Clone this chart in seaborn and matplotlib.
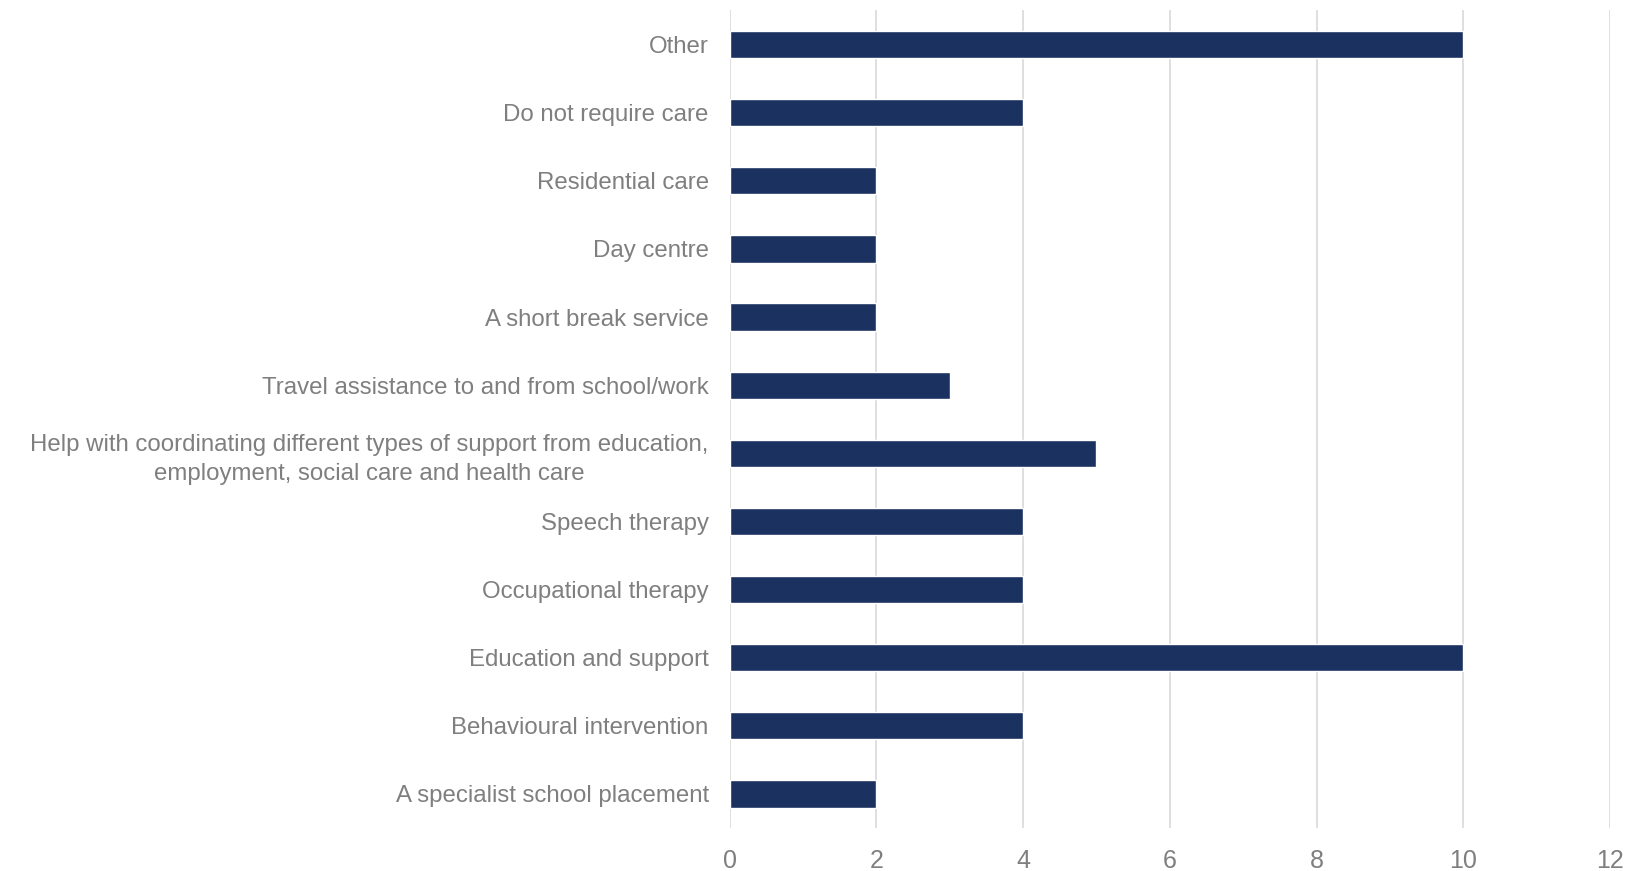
import matplotlib
matplotlib.use("Agg")
import matplotlib.pyplot as plt
import seaborn as sns
import pandas as pd

categories = [
    "Other",
    "Do not require care",
    "Residential care",
    "Day centre",
    "A short break service",
    "Travel assistance to and from school/work",
    "Help with coordinating different types of support from education,\nemployment, social care and health care",
    "Speech therapy",
    "Occupational therapy",
    "Education and support",
    "Behavioural intervention",
    "A specialist school placement",
]
values = [10, 4, 2, 2, 2, 3, 5, 4, 4, 10, 4, 2]
x_ticks = [0, 2, 4, 6, 8, 10, 12]

df = pd.DataFrame({"category": categories, "value": values})

sns.set_theme(style="white")
plt.rcParams["font.family"] = ["Liberation Sans", "DejaVu Sans"]

fig = plt.figure(figsize=(16.27, 8.71), dpi=100)
ax = fig.add_axes([0.4484, 0.0494, 0.5412, 0.9386])

sns.barplot(data=df, y="category", x="value", orient="h", color="#1b3160",
            saturation=1, width=0.4, ax=ax, zorder=3)

ax.set_xlim(0, 12)
ax.set_ylim(11.5, -0.5)
ax.set_xticks(x_ticks)
ax.xaxis.grid(True, color="#d9d9d9", linewidth=1.2, zorder=0)
ax.set_axisbelow(True)
for s in ax.spines.values():
    s.set_visible(False)
ax.set_xlabel("")
ax.set_ylabel("")
ax.tick_params(axis="x", length=0, pad=15, labelsize=18, labelcolor="#7f7f7f")
ax.tick_params(axis="y", length=0, pad=15, labelsize=17.3, labelcolor="#7f7f7f")
for t in ax.get_yticklabels():
    t.set_horizontalalignment("right")
    t.set_multialignment("center")
    t.set_linespacing(1.4)

fig.savefig("out.png", dpi=100, facecolor="white")
